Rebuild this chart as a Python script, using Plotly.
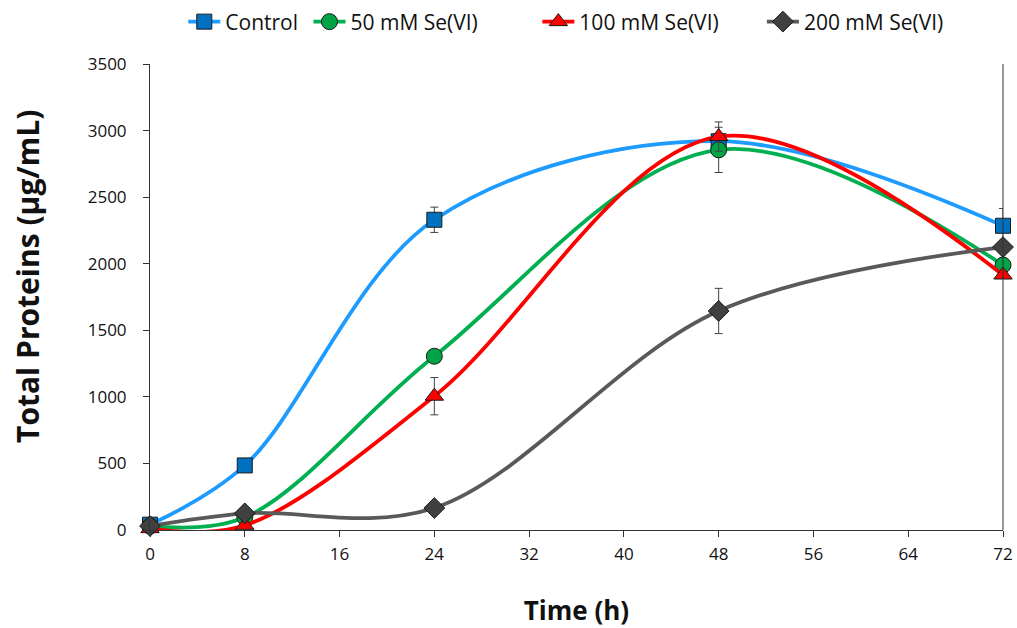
import plotly.graph_objects as go

time_h = [0, 8, 24, 48, 72]
control = [40, 485, 2330, 2920, 2285]
se50 = [30, 95, 1305, 2855, 1990]
se100 = [10, 35, 1005, 2955, 1915]
se200 = [30, 125, 165, 1645, 2125]
err_control = [0, 0, 95, 60, 130]
err_se50 = [0, 0, 0, 170, 0]
err_se100 = [0, 0, 140, 110, 0]
err_se200 = [0, 0, 0, 170, 0]

NB = "\u00a0"
series = [
    ("Control" + NB * 1, control, err_control, "#1E9BFF", "#0070C0", "square", 15),
    ("50 mM Se(VI)" + NB * 10, se50, err_se50, "#00B050", "#00A447", "circle", 16),
    ("100 mM Se(VI)" + NB * 7, se100, err_se100, "#FF0000", "#FF0000", "triangle-up", 16),
    ("200 mM Se(VI)", se200, err_se200, "#595959", "#404040", "diamond", 16),
]

fig = go.Figure()
for name, vals, errs, lc, mc, sym, ms in series:
    fig.add_trace(go.Scatter(
        x=time_h, y=vals, name=name, mode="lines+markers", cliponaxis=False,
        line=dict(color=lc, width=3.8, shape="spline", smoothing=1.0),
        marker=dict(symbol=sym, size=ms, color=mc, line=dict(color="#1a1a1a", width=1)),
        error_y=dict(type="data", array=errs, visible=True, color="#404040", thickness=1, width=4),
    ))

fig.update_layout(
    width=1017, height=628,
    paper_bgcolor="white", plot_bgcolor="white",
    margin=dict(l=150, r=14, t=64, b=98, autoexpand=False),
    font=dict(family="Open Sans, Liberation Sans, sans-serif", size=15, color="#111"),
    legend=dict(orientation="h", xref="paper", x=0.039, xanchor="left",
                yref="container", y=0.965, yanchor="middle",
                font=dict(size=21), itemwidth=32, tracegroupgap=0),
    showlegend=True,
)
fig.update_xaxes(
    range=[0, 72], tickvals=[0, 8, 16, 24, 32, 40, 48, 56, 64, 72], automargin=False,
    showgrid=False, zeroline=False, showline=True, linecolor="#333", linewidth=1,
    ticks="outside", ticklen=6, tickcolor="#333", tickfont=dict(size=17),
    ticklabelstandoff=3,
    title=dict(text="<b>Time (h)</b>", font=dict(size=26), standoff=37),
)
fig.update_yaxes(
    range=[0, 3500], tickvals=[0, 500, 1000, 1500, 2000, 2500, 3000, 3500], automargin=False,
    showgrid=False, zeroline=False, showline=True, linecolor="#333", linewidth=1,
    ticks="outside", ticklen=6, tickcolor="#333", tickfont=dict(size=17),
    ticklabelstandoff=13,
)
fig.add_annotation(text="<b>Total Proteins (µg/mL)</b>", textangle=-90,
                   xref="paper", yref="paper", x=-0.143, y=0.543,
                   xanchor="center", yanchor="middle", showarrow=False,
                   font=dict(size=30, color="#111"))
fig.add_shape(type="line", xref="paper", yref="paper", x0=1, x1=1, y0=0, y1=1,
              line=dict(color="#333", width=1))

fig.write_html("out.html", config={"displayModeBar": False},
               post_script="document.body.style.margin='0';document.body.style.overflow='hidden';")
